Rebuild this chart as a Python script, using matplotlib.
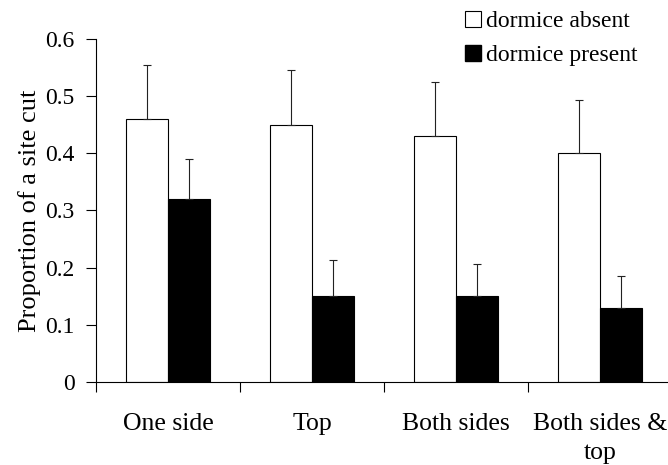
import numpy as np
import matplotlib
matplotlib.use("Agg")
import matplotlib.pyplot as plt
from matplotlib.lines import Line2D

plt.rcParams['font.family'] = ['Liberation Serif', 'DejaVu Serif']

# data
categories = ['One side', 'Top', 'Both sides', 'Both sides &\ntop']
absent = [0.46, 0.45, 0.43, 0.40]
absent_err = [0.095, 0.095, 0.095, 0.093]
present = [0.32, 0.15, 0.15, 0.13]
present_err = [0.07, 0.063, 0.056, 0.055]

fig = plt.figure(figsize=(6.68, 4.65), dpi=100)
ax = fig.add_axes([96/668, 83/465, 576/668, 343/465])

x = np.arange(len(categories))
w = 0.29
ax.bar(x - w/2, absent, w, color='white', edgecolor='black', linewidth=0.8)
ax.bar(x + w/2, present, w, color='black', edgecolor='black', linewidth=0.8)
ax.errorbar(x - w/2, absent, yerr=[np.zeros(4), absent_err], fmt='none',
            ecolor='#222222', elinewidth=0.8, capsize=3, capthick=0.8)
ax.errorbar(x + w/2, present, yerr=[np.zeros(4), present_err], fmt='none',
            ecolor='#222222', elinewidth=0.8, capsize=3, capthick=0.8)

ax.set_xlim(-0.5, 3.5)
ax.set_ylim(0, 0.6)
ax.set_yticks([0, 0.1, 0.2, 0.3, 0.4, 0.5, 0.6])
ax.set_yticklabels(['0', '0.1', '0.2', '0.3', '0.4', '0.5', '0.6'], fontsize=17)
ax.set_xticks(x - 0.5)
ax.set_xticklabels([])
ax.set_xticks(x, minor=True)
ax.set_xticklabels(categories, minor=True, fontsize=18.5, linespacing=1.45)
ax.tick_params(axis='x', which='minor', length=0, pad=22)
ax.tick_params(axis='x', which='major', length=7, width=0.8)
ax.tick_params(axis='y', length=7, width=0.8, pad=8.5)
for s in ['top', 'right']:
    ax.spines[s].set_visible(False)
for s in ['left', 'bottom']:
    ax.spines[s].set_linewidth(0.8)

ax.set_ylabel('Proportion of a site cut', fontsize=19, labelpad=3)

handles = [Line2D([], [], marker='s', ls='none', markersize=11,
                  markerfacecolor='white', markeredgecolor='black', markeredgewidth=0.8),
           Line2D([], [], marker='s', ls='none', markersize=11,
                  markerfacecolor='black', markeredgecolor='black')]
fig.legend(handles, ['dormice absent', 'dormice present'], loc='upper left',
           bbox_to_anchor=(455/668, 1.0 - 1/465), frameon=False, fontsize=17,
           handlelength=0.7, handletextpad=0.2, labelspacing=0.55,
           borderaxespad=0.0)

fig.savefig('out.png', dpi=100)
